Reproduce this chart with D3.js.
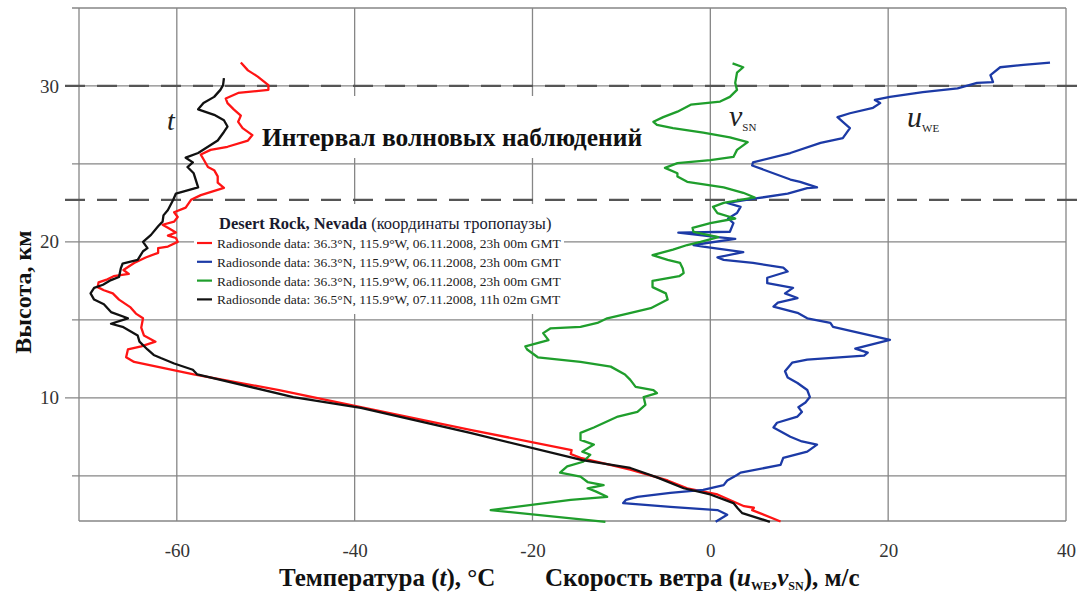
<!DOCTYPE html>
<html>
<head>
<meta charset="utf-8">
<script src="https://cdn.jsdelivr.net/npm/d3@7"></script>
<style>
  body { margin: 0; background: #fff; }
  text { font-family: "Liberation Serif", "Times New Roman", serif; }
</style>
</head>
<body>
<svg id="chart" width="1080" height="592"></svg>
<script>
// [altitude km, value] pairs, bottom to top
const tempRed = [
  [2.07, 7.9], [2.8, 4.7], [2.95, 4.9], [3.05, 3.8], [3.8, 0.8], [4.2, -2.6], [4.7, -4.8],
  [5.4, -9.0], [6.15, -14.6], [6.4, -15.7], [6.65, -15.6], [7.95, -27], [9.4, -39.3],
  [10.5, -48.5], [11.5, -58.1], [12.3, -64.8], [12.6, -65.7], [13.1, -65.5], [13.3, -64],
  [13.6, -62.4], [14.0, -63.7], [14.5, -64], [15.1, -63.8], [15.4, -64.6], [15.8, -65.2],
  [16.3, -66.5], [16.7, -67.2], [16.9, -68.2], [17.1, -68.9], [17.4, -68.8], [17.6, -67.8],
  [17.8, -67.1], [17.95, -65.4], [18.2, -66], [18.65, -64.8], [19.0, -63.5], [19.3, -62.1],
  [19.6, -62.1], [19.7, -61], [20.0, -59.9], [20.25, -60.1], [20.4, -61], [20.6, -60.1],
  [20.9, -61], [21.1, -61.6], [21.3, -60.3], [21.6, -59.9], [21.9, -60.3], [22.2, -59],
  [22.7, -58.4], [23.0, -57.3], [23.46, -54.7], [23.8, -55.4], [24.2, -55.4], [24.6, -55.8],
  [24.8, -56.5], [25.3, -57], [25.6, -57.3], [25.9, -56.2], [26.1, -54.3], [26.5, -52.0],
  [26.85, -51.5], [27.3, -52.6], [27.7, -53.1], [28.1, -52.8], [28.5, -53.6], [28.9, -54.3],
  [29.2, -54.5], [29.55, -53.1], [29.75, -49.7], [30.05, -49.7], [30.6, -50.9], [31.0, -52.0],
  [31.5, -52.8]
]

const tempBlack = [
  [2.05, 6.7], [2.6, 3.6], [2.9, 3.1], [3.25, 2.6], [3.8, 0], [4.2, -3.0], [4.9, -6],
  [5.5, -9], [6.0, -14.4], [7.75, -27], [9.35, -39.3], [10.05, -46.9], [11.5, -57.7],
  [11.8, -58.2], [12.2, -60.3], [12.55, -61.8], [12.75, -62.6], [13.1, -63.3], [13.6, -64.2],
  [14.0, -64.4], [14.55, -66.1], [14.75, -67.4], [15.1, -65.5], [15.5, -67.4], [16.0, -68.2],
  [16.3, -69.3], [16.7, -69.7], [17.05, -69.3], [17.25, -68.3], [17.55, -67.4], [17.75, -66.5],
  [18.3, -66.3], [18.6, -66.1], [18.85, -64.4], [19.4, -63.8], [19.6, -63.3], [20.0, -63.8],
  [20.45, -62.9], [21.0, -62.1], [21.3, -61.6], [21.7, -61.5], [22.05, -61], [22.7, -60.4],
  [23.1, -60.1], [23.3, -58.8], [23.5, -57.6], [24.4, -58.1], [24.8, -58.8], [25.1, -58.2],
  [25.4, -59], [25.7, -57.6], [26.1, -56.5], [26.5, -55.4], [27.05, -54.7], [27.4, -54.3],
  [27.8, -54.7], [28.15, -55.8], [28.5, -57.6], [28.9, -57], [29.3, -55.8], [29.75, -55.1],
  [30.05, -54.8], [30.5, -54.7]
]

const windSN = [
  [2.05, -11.8], [2.8, -24.7], [3.45, -15.7], [3.65, -11.6], [4.0, -12.9], [4.2, -13.8],
  [4.4, -12.0], [4.6, -13.8], [4.95, -14.6], [5.2, -16.9], [5.6, -16.1], [5.9, -14.3],
  [6.35, -13.5], [6.55, -14.4], [7.0, -13.1], [7.3, -14.6], [7.75, -14.6], [8.1, -13.1],
  [8.8, -10.4], [9.1, -8.2], [9.55, -7.3], [10.05, -7.5], [10.3, -6.0], [10.5, -6.4],
  [10.7, -8.4], [11.15, -9.0], [11.5, -9.6], [12.0, -11.2], [12.3, -14.6], [12.6, -19.4],
  [13.1, -20.6], [13.3, -20.8], [13.7, -18.2], [14.15, -18.8], [14.45, -18], [14.55, -14.6],
  [14.8, -12.7], [15.1, -11.6], [15.4, -9.3], [15.75, -6.7], [16.3, -4.8], [16.7, -5.0],
  [17.1, -6.5], [17.5, -6.5], [17.8, -3.5], [18.0, -3.0], [18.3, -3.1], [18.65, -3.4],
  [18.85, -4.8], [19.15, -6.5], [19.5, -4.2], [19.8, -2.6], [20.0, -1.1], [20.3, 0.9],
  [20.65, -1.9], [20.9, -2.0], [21.2, 0], [21.5, 2.8], [21.85, 0.8], [22.25, 0.3],
  [22.5, 1.5], [22.85, 5.0], [23.15, 3.7], [23.5, 1.5], [23.85, -2.6], [24.2, -3.7],
  [24.4, -3.7], [24.75, -5.1], [25.05, -3.7], [25.25, 0], [25.45, 2.6], [25.9, 3.0],
  [26.4, 4.2], [26.7, 2.2], [27.0, -0.8], [27.3, -4.2], [27.5, -6.0], [27.7, -6.4],
  [28.0, -5.3], [28.35, -3.7], [28.8, -2.2], [29.0, 1.1], [29.3, 2.2], [29.75, 3.0],
  [30.2, 2.8], [30.85, 3.0], [31.2, 3.7], [31.45, 2.5]
]

const windWE = [
  [2.05, 0.6], [2.5, 1.9], [2.8, 0.8], [3.0, -4.5], [3.25, -9.8], [3.45, -9.5], [3.65, -8.2],
  [3.9, -4.5], [4.1, -0.8], [4.4, 1.5], [4.7, 1.9], [5.05, 3.0], [5.2, 3.4], [5.7, 7.9],
  [6.15, 8.2], [6.55, 10.9], [7.0, 12.0], [7.2, 10.3], [7.5, 9.0], [8.1, 7.1], [8.4, 7.5],
  [8.8, 9.8], [9.1, 10.3], [9.4, 9.9], [9.7, 10.7], [10.05, 11.2], [10.5, 10.9], [10.95, 9.8],
  [11.3, 8.7], [11.7, 8.4], [12.25, 9.2], [12.45, 10.9], [12.6, 14.5], [12.7, 17.3],
  [12.9, 17.7], [13.15, 16.3], [13.3, 17.3], [13.72, 20.2], [14.55, 13.8], [14.8, 13.5],
  [15.1, 10.9], [15.45, 9.8], [15.85, 7.1], [16.1, 7.6], [16.4, 9.8], [16.7, 8.4],
  [17.05, 9.3], [17.35, 6.4], [17.7, 6.4], [18.1, 8.7], [18.35, 8.2], [18.65, 4.8],
  [18.85, 1.5], [19.0, 0.8], [19.35, 3.7], [19.7, -0.8], [19.8, -1.9], [20.2, 2.8],
  [20.3, 0.8], [20.6, -3.6], [20.65, 2.2], [21.2, 2.6], [21.5, 2.0], [21.85, 3.0],
  [22.25, 3.4], [22.5, 1.9], [22.8, 5.3], [23.1, 8.7], [23.45, 10.9], [23.5, 12.0],
  [23.85, 10.1], [24.0, 9.0], [24.9, 4.7], [25.1, 4.8], [25.7, 9.0], [26.35, 12.4],
  [26.65, 14.9], [27.3, 15.7], [27.7, 14.9], [28.0, 14.3], [28.25, 15.7], [28.6, 18.3],
  [28.9, 19.1], [29.1, 18.5], [29.3, 20.2], [29.6, 23.9], [29.85, 27.8], [30.2, 30.0],
  [30.25, 31.8], [30.7, 31.5], [31.2, 32.6], [31.35, 35.2], [31.5, 38.2]
]

const xTicks = [-60, -40, -20, 0, 20, 40]
const yGrid = [5, 10, 15, 20, 25, 30, 35]
const yLabelled = [10, 20, 30]
const tropopause = [30, 22.7]

const legendTitle = 'Desert Rock, Nevada'
const legendNote = ' (координаты тропопаузы)'
const legendLabels = [
  'Radiosonde data: 36.3°N, 115.9°W, 06.11.2008, 23h 00m GMT',
  'Radiosonde data: 36.3°N, 115.9°W, 06.11.2008, 23h 00m GMT',
  'Radiosonde data: 36.3°N, 115.9°W, 06.11.2008, 23h 00m GMT',
  'Radiosonde data: 36.5°N, 115.9°W, 07.11.2008, 11h 02m GMT'
]

const series = [
  { data: tempRed, color: '#ff1414' },
  { data: windWE, color: '#1c3aa6' },
  { data: windSN, color: '#1f9e2c' },
  { data: tempBlack, color: '#111111' }
]

const serif = '"Liberation Serif", "Times New Roman", serif'
const svg = d3.select('#chart')
const xScale = d3.scaleLinear().domain([-71, 40]).range([79, 1066])
const yScale = d3.scaleLinear().domain([2.1, 35]).range([521, 8])
const [x0, x1] = xScale.range()
const [yb, yt] = yScale.range()

// grid
const grid = svg.append('g').attr('stroke', '#868686').attr('stroke-width', 1.3)
grid.selectAll('.vgrid').data(xTicks).enter().append('line').
  attr('x1', d => xScale(d)).attr('x2', d => xScale(d)).
  attr('y1', yt).attr('y2', yb)
grid.append('line').attr('x1', x0).attr('x2', x0).attr('y1', yt).attr('y2', yb)
grid.selectAll('.hgrid').data(yGrid).enter().append('line').
  attr('x1', d => yLabelled.includes(d) ? 65 : 72).attr('x2', x1).
  attr('y1', d => yScale(d)).attr('y2', d => yScale(d))
grid.append('line').attr('x1', x0).attr('x2', x1).attr('y1', yb).attr('y2', yb)

// tropopause interval
svg.selectAll('.tropo').data(tropopause).enter().append('line').
  attr('x1', 65).attr('x2', 1080).
  attr('y1', d => yScale(d)).attr('y2', d => yScale(d)).
  attr('stroke', '#555').attr('stroke-width', 2.2).attr('stroke-dasharray', '20 12')

// white boxes behind title and legend
svg.append('rect').attr('x', 255).attr('y', 96).attr('width', 395).attr('height', 62).attr('fill', '#fff')
svg.append('rect').attr('x', 194).attr('y', 204).attr('width', 370).attr('height', 110).attr('fill', '#fff')

// tick labels
const xAxis = d3.axisBottom(xScale).tickValues(xTicks).tickSize(0).tickPadding(0)
const xAxisG = svg.append('g').attr('transform', `translate(0, ${yb + 22})`).call(xAxis)
xAxisG.select('.domain').remove()
xAxisG.selectAll('text').style('font-family', serif).style('font-size', '19px').attr('fill', '#333').
  text(d => d < 0 ? '-' + Math.abs(d) : d)

const yAxis = d3.axisLeft(yScale).tickValues(yLabelled).tickSize(0).tickPadding(0)
const yAxisG = svg.append('g').attr('transform', 'translate(59, 0)').call(yAxis)
yAxisG.select('.domain').remove()
yAxisG.selectAll('text').style('font-family', serif).style('font-size', '19px').attr('fill', '#333')

// curves
const lineGenerator = d3.line().
  x(d => xScale(d[1])).
  y(d => yScale(d[0]))

svg.selectAll('.line-path').data(series).enter().append('path').
  attr('class', 'line-path').
  attr('d', d => lineGenerator(d.data)).
  attr('fill', 'none').
  attr('stroke', d => d.color).
  attr('stroke-width', 2.3).
  attr('stroke-linejoin', 'round')

// title
svg.append('text').attr('x', 262).attr('y', 146).
  attr('font-size', 25.5).attr('font-weight', 'bold').attr('fill', '#111').
  text('Интервал волновых наблюдений')

// curve labels
svg.append('text').attr('x', 167).attr('y', 130).attr('font-size', 28).
  attr('font-style', 'italic').attr('fill', '#222').text('t')
const vLab = svg.append('text').attr('x', 729).attr('y', 126).attr('fill', '#222')
vLab.append('tspan').attr('font-size', 30).attr('font-style', 'italic').text('v')
vLab.append('tspan').attr('font-size', 11).attr('dy', 5).text('SN')
const uLab = svg.append('text').attr('x', 907).attr('y', 127).attr('fill', '#222')
uLab.append('tspan').attr('font-size', 30).attr('font-style', 'italic').text('u')
uLab.append('tspan').attr('font-size', 11).attr('dy', 5).text('WE')

// legend
const legend = svg.append('g').attr('transform', 'translate(197, 0)')
const lt = legend.append('text').attr('x', 22).attr('y', 229).attr('font-size', 16.5).attr('fill', '#1a1a2e')
lt.append('tspan').attr('font-weight', 'bold').text(legendTitle)
lt.append('tspan').text(legendNote)
const entries = legend.selectAll('.entry').data(series).enter().append('g').
  attr('transform', (d, i) => `translate(0, ${243 + i * 18.8})`)
entries.append('line').attr('x1', 0).attr('x2', 15).
  attr('stroke', d => d.color).attr('stroke-width', 2.2)
entries.append('text').attr('x', 20).attr('y', 5).attr('font-size', 13.5).attr('fill', '#222').
  text((d, i) => legendLabels[i])

// axis titles
svg.append('text').attr('transform', 'translate(31, 292) rotate(-90)').
  attr('text-anchor', 'middle').attr('font-size', 24).attr('font-weight', 'bold').attr('fill', '#111').
  text('Высота, км')

const tx = svg.append('text').attr('x', 279).attr('y', 586).
  attr('font-size', 25).attr('font-weight', 'bold').attr('fill', '#111')
tx.append('tspan').text('Температура (')
tx.append('tspan').attr('font-style', 'italic').text('t')
tx.append('tspan').text('), °C')

const wx = svg.append('text').attr('x', 545).attr('y', 586).
  attr('font-size', 25).attr('font-weight', 'bold').attr('fill', '#111')
wx.append('tspan').text('Скорость ветра (')
wx.append('tspan').attr('font-style', 'italic').text('u')
wx.append('tspan').attr('font-size', 12).attr('dy', 4).text('WE')
wx.append('tspan').attr('dy', -4).text(',')
wx.append('tspan').attr('font-style', 'italic').text('v')
wx.append('tspan').attr('font-size', 12).attr('dy', 4).text('SN')
wx.append('tspan').attr('dy', -4).text('), м/с')
</script>
</body>
</html>
